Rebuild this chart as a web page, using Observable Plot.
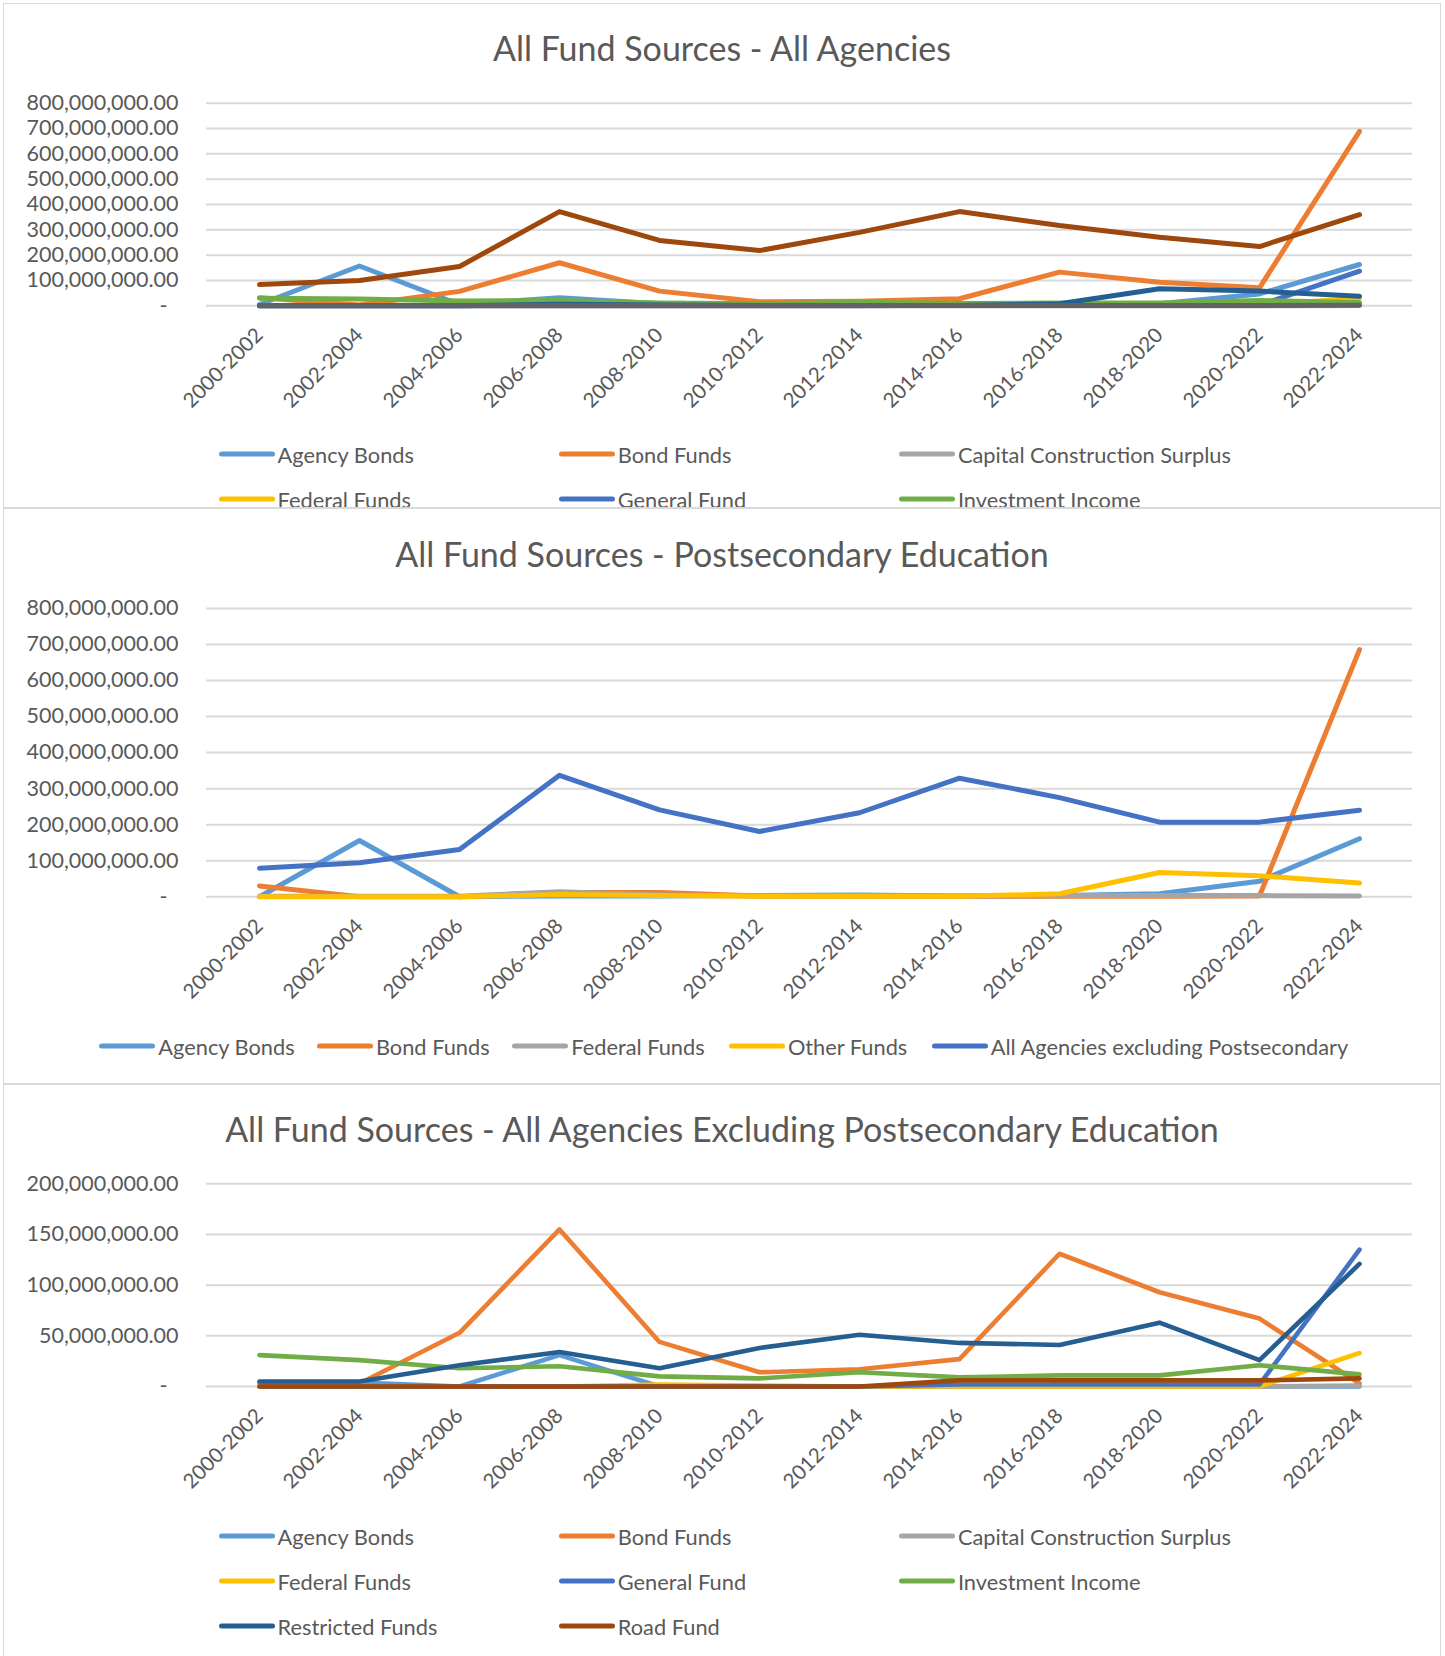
<!DOCTYPE html>
<html><head><meta charset="utf-8">
<script src="https://cdn.jsdelivr.net/npm/d3@7"></script>
<script src="https://cdn.jsdelivr.net/npm/@observablehq/plot@0.6"></script>
<style>
body{margin:0;background:#fff;font-family:Lato,"Open Sans",sans-serif;color:#595959}
#page{position:relative;width:1445px;height:1656px;overflow:hidden;background:#fff}
.panel{position:absolute;left:3px;width:1438px;overflow:hidden}
.frame{position:absolute;left:0;top:0;right:0;bottom:0;border:1.5px solid #D9D9D9;pointer-events:none}
.title{position:absolute;left:0;width:100%;text-align:center;font-size:34px;line-height:1;transform:translateY(-50%);color:#595959}
.plotbox{position:absolute;left:-3px}
.leg{position:absolute;display:flex;align-items:center;font-size:21.8px;white-space:nowrap;transform:translateY(-50%);color:#595959}
.sw{width:56px;height:5px;border-radius:3px;margin-right:3px}
</style></head><body><div id="page"></div>
<script>
// ---- categories (x axis) ----
const categories = ["2000-2002","2002-2004","2004-2006","2006-2008","2008-2010","2010-2012","2012-2014","2014-2016","2016-2018","2018-2020","2020-2022","2022-2024"];
const M = 1e6; // values below are in millions

// ---- Panel 1: All Fund Sources - All Agencies ----
const p1Title = "All Fund Sources - All Agencies";
const p1Series = ["Agency Bonds","Bond Funds","Capital Construction Surplus","Federal Funds","General Fund","Investment Income","Other Funds","Restricted Funds","Road Fund"];
const p1Colors = ["#5B9BD5","#ED7D31","#A5A5A5","#FFC000","#4472C4","#70AD47","#255E91","#9E480E","#636363"];
const p1LegendShown = 6; // the legend's third row is cut off by the chart frame in the original
const p1AgencyBonds     = [5,157,5,32,8,5,6,3,4,8,47,163];
const p1BondFunds       = [32,3,57,170,58,16,18,28,133,93,71,689];
const p1CapConstruction = [0,0,0,0,0,0,0,0,0,0,0,1];
const p1FederalFunds    = [1,1,1,15,7,3,2,2,3,3,3,30];
const p1GeneralFund     = [0,0,0,0,0,0,0,2,2,2,2,137];
const p1InvestIncome    = [30,27,19,21,11,8,14,9,11,11,21,13];
const p1OtherFunds      = [0,0,0,6,3,1,1,1,8,67,58,38];
const p1Restricted      = [84,100,155,372,258,218,290,372,317,271,234,360];
const p1RoadFund        = [1,1,1,1,1,1,1,1,1,1,1,2];
const p1Values = [p1AgencyBonds,p1BondFunds,p1CapConstruction,p1FederalFunds,p1GeneralFund,p1InvestIncome,p1OtherFunds,p1Restricted,p1RoadFund];
const p1Ticks = [0,100,200,300,400,500,600,700,800];

// ---- Panel 2: All Fund Sources - Postsecondary Education ----
const p2Title = "All Fund Sources - Postsecondary Education";
const p2Series = ["Agency Bonds","Bond Funds","Federal Funds","Other Funds","All Agencies excluding Postsecondary"];
const p2Colors = ["#5B9BD5","#ED7D31","#A5A5A5","#FFC000","#4472C4"];
const p2AgencyBonds  = [0,156,0,2,2,3,5,2,3,8,43,161];
const p2BondFunds    = [30,0,0,12,12,2,1,1,1,1,2,686];
const p2FederalFunds = [1,1,1,14,5,2,2,2,3,3,3,2];
const p2OtherFunds   = [0,0,0,6,3,1,1,1,8,67,58,38];
const p2AllExclPost  = [79,94,131,337,241,181,233,329,275,207,207,240];
const p2Values = [p2AgencyBonds,p2BondFunds,p2FederalFunds,p2OtherFunds,p2AllExclPost];
const p2Ticks = [0,100,200,300,400,500,600,700,800];

// ---- Panel 3: All Fund Sources - All Agencies Excluding Postsecondary Education ----
const p3Title = "All Fund Sources - All Agencies Excluding Postsecondary Education";
const p3Series = ["Agency Bonds","Bond Funds","Capital Construction Surplus","Federal Funds","General Fund","Investment Income","Restricted Funds","Road Fund"];
const p3Colors = ["#5B9BD5","#ED7D31","#A5A5A5","#FFC000","#4472C4","#70AD47","#255E91","#9E480E"];
const p3AgencyBonds     = [4,4,0,31,0,0,0,0,0,0,0,0];
const p3BondFunds       = [3,3,53,155,44,14,17,27,131,93,67,3];
const p3CapConstruction = [0,0,0,0,0,0,0,0,0,0,0,1];
const p3FederalFunds    = [0,0,0,0,2,1,0,0,0,0,0,33];
const p3GeneralFund     = [0,0,0,0,0,0,0,2,2,2,2,135];
const p3InvestIncome    = [31,26,18,20,10,8,14,9,11,11,21,12];
const p3Restricted      = [5,5,21,34,18,38,51,43,41,63,26,121];
const p3RoadFund        = [0,0,0,0,0,0,0,6,6,6,6,8];
const p3Values = [p3AgencyBonds,p3BondFunds,p3CapConstruction,p3FederalFunds,p3GeneralFund,p3InvestIncome,p3Restricted,p3RoadFund];
const p3Ticks = [0,50,100,150,200];

const fmt = d => d === 0 ? "-\u00a0\u00a0" : d3.format(",.2f")(d);

function tidy(series, values){
  const rows = [];
  series.forEach((s,i) => values[i].forEach((v,j) => rows.push({series:s, cat:categories[j], value:v*M})));
  return rows;
}

function panel(cfg){
  const page = document.getElementById("page");
  const p = document.createElement("div");
  p.className = "panel";
  p.style.top = cfg.top + "px";
  p.style.height = cfg.height + "px";
  page.appendChild(p);

  const t = document.createElement("div");
  t.className = "title";
  t.style.top = cfg.titleY + "px";
  t.textContent = cfg.title;
  p.appendChild(t);

  const rows = tidy(cfg.series, cfg.values);
  const ticks = cfg.ticks.map(v => v*M);
  const svg = Plot.plot({
    width: 1445, height: cfg.svgH,
    marginLeft: 206, marginRight: 33, marginTop: cfg.mt, marginBottom: cfg.mb,
    style: {background:"transparent", fontFamily:"Lato, sans-serif", color:"#595959", overflow:"visible", maxWidth:"none"},
    x: {type:"point", domain: categories, padding: 0.5, axis: null},
    y: {domain: [0, d3.max(ticks)], axis: null},
    color: {domain: cfg.series, range: cfg.colors},
    marks: [
      Plot.gridY({ticks, stroke:"#D9D9D9", strokeOpacity:1, strokeWidth:2}),
      Plot.axisY({ticks, label:null, tickSize:0, tickPadding:28, tickFormat: fmt, fontSize:21.5, fill:"#595959"}),
      Plot.axisX({label:null, tickSize:0, tickRotate:-45, tickPadding:26, fontSize:20.5, fill:"#595959"}),
      Plot.lineY(rows, {x:"cat", y:"value", z:"series", stroke:"series", strokeWidth: cfg.sw, strokeLinecap:"round", strokeLinejoin:"round"})
    ]
  });
  const box = document.createElement("div");
  box.className = "plotbox";
  box.style.top = cfg.svgTop + "px";
  box.appendChild(svg);
  p.appendChild(box);

  cfg.series.slice(0, cfg.legendCount).forEach((s,i) => {
    const pos = cfg.legendPos(i);
    const it = document.createElement("div");
    it.className = "leg";
    it.style.left = (pos[0]-3) + "px";
    it.style.top = pos[1] + "px";
    const sw = document.createElement("div");
    sw.className = "sw";
    sw.style.background = cfg.colors[i];
    it.appendChild(sw);
    const tx = document.createElement("span");
    tx.textContent = s;
    it.appendChild(tx);
    p.appendChild(it);
  });

  const fr = document.createElement("div");
  fr.className = "frame";
  p.appendChild(fr);
}

const colX = [218.6, 558.8, 898.9];

panel({top:3, height:505, title:p1Title, titleY:44.5, svgTop:77, svgH:320, mt:22.7, mb:94.7, sw:5,
  series:p1Series, colors:p1Colors, values:p1Values, ticks:p1Ticks, legendCount:p1LegendShown,
  legendPos: i => [colX[i%3], 451 + Math.floor(i/3)*44.6]});

const p2LegX = [99.3, 316.9, 512.3, 728.9, 931.7];
panel({top:508, height:576, title:p2Title, titleY:45.5, svgTop:72, svgH:420, mt:28, mb:103.8, sw:5,
  series:p2Series, colors:p2Colors, values:p2Values, ticks:p2Ticks, legendCount:p2Series.length,
  legendPos: i => [p2LegX[i], 537.7]});

panel({top:1084, height:600, title:p3Title, titleY:45, svgTop:76, svgH:340, mt:23.3, mb:114, sw:4.6,
  series:p3Series, colors:p3Colors, values:p3Values, ticks:p3Ticks, legendCount:p3Series.length,
  legendPos: i => [colX[i%3], 451.9 + Math.floor(i/3)*44.85]});
</script></body></html>
